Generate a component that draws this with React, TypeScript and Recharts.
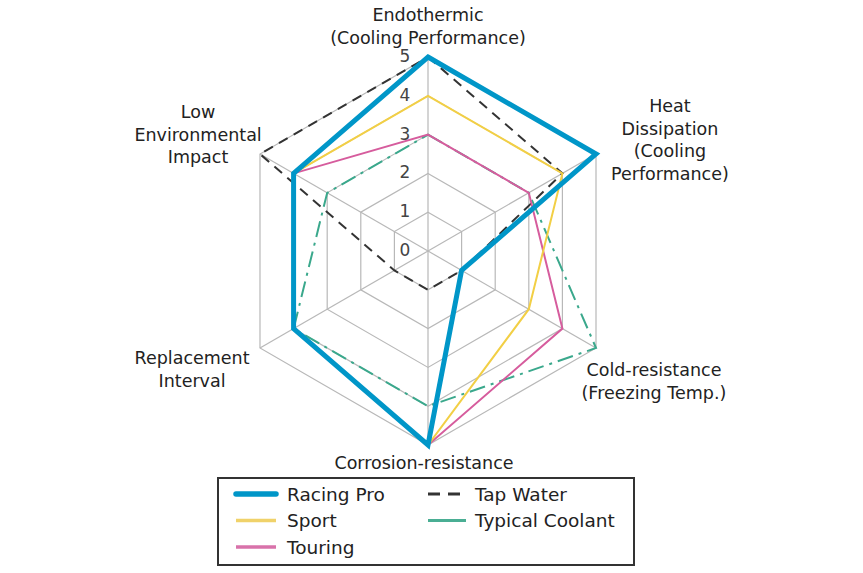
import { RadarChart, Radar, PolarGrid, PolarAngleAxis, PolarRadiusAxis, Legend } from 'recharts';

const categories = [
  'Endothermic\n(Cooling Performance)',
  'Heat\nDissipation\n(Cooling\nPerformance)',
  'Cold-resistance\n(Freezing Temp.)',
  'Corrosion-resistance',
  'Replacement\nInterval',
  'Low\nEnvironmental\nImpact',
];

const racingPro = [5, 5, 1, 5, 4, 4];
const sport = [4, 4, 3, 5, 4, 4];
const touring = [3, 3, 4, 5, 4, 4];
const tapWater = [5, 4, 1, 1, 1, 5];
const typicalCoolant = [3, 3, 5, 4, 4, 3];

const radiusTicks = [0, 1, 2, 3, 4, 5];

const data = categories.map((name, i) => ({
  name,
  racingPro: racingPro[i],
  sport: sport[i],
  touring: touring[i],
  tapWater: tapWater[i],
  typicalCoolant: typicalCoolant[i],
}));

const FONT = '"DejaVu Sans", Verdana, sans-serif';

// label offsets from the tick point, per axis
const LABEL_OFFSETS = [
  { dx: 0, dy: -34 },
  { dx: 67, dy: -44 },
  { dx: 51, dy: 18 },
  { dx: -4, dy: 10 },
  { dx: -61, dy: 6 },
  { dx: -55, dy: -38 },
];

const AngleTick = (props: any) => {
  const { x, y, payload, index } = props;
  const off = LABEL_OFFSETS[index] || { dx: 0, dy: 0 };
  const lines = String(payload.value).split('\n');
  return (
    <text
      x={x + off.dx}
      y={y + off.dy}
      textAnchor="middle"
      dominantBaseline="central"
      fontFamily={FONT}
      fontSize={17.5}
      fill="#222"
    >
      {lines.map((line, i) => (
        <tspan key={i} x={x + off.dx} dy={i === 0 ? 0 : 22.5}>
          {line}
        </tspan>
      ))}
    </text>
  );
};

const RadiusTick = (props: any) => {
  const { x, y, payload } = props;
  return (
    <text
      x={x - 23}
      y={y - 1}
      textAnchor="middle"
      dominantBaseline="central"
      fontFamily={FONT}
      fontSize={17}
      fill="#444"
    >
      {payload.value}
    </text>
  );
};

const legendItems = [
  { label: 'Racing Pro', color: '#0096c8', width: 5.5, dash: undefined, col: 0, row: 0 },
  { label: 'Sport', color: '#f0d26a', width: 3.5, dash: undefined, col: 0, row: 1 },
  { label: 'Touring', color: '#d872aa', width: 3.5, dash: undefined, col: 0, row: 2 },
  { label: 'Tap Water', color: '#333', width: 3, dash: '12 8', col: 1, row: 0 },
  { label: 'Typical Coolant', color: '#4aae94', width: 3, dash: undefined, col: 1, row: 1 },
];

const LegendBox = () => (
  <svg width={418} height={89} style={{ display: 'block' }}>
    <rect x={1} y={1} width={416} height={87} fill="#fff" stroke="#333" strokeWidth={2} />
    {legendItems.map((it) => {
      const x0 = it.col === 0 ? 19 : 211;
      const y0 = 17 + it.row * 26.5;
      return (
        <g key={it.label}>
          <line
            x1={x0}
            y1={y0}
            x2={x0 + (it.col === 0 ? 40 : 38)}
            y2={y0}
            stroke={it.color}
            strokeWidth={it.width}
            strokeDasharray={it.dash}
            strokeLinecap={it.width > 5 ? 'round' : 'butt'}
          />
          <text
            x={it.col === 0 ? x0 + 51 : x0 + 47}
            y={y0}
            dominantBaseline="central"
            fontFamily={FONT}
            fontSize={18.5}
            fill="#222"
          >
            {it.label}
          </text>
        </g>
      );
    })}
  </svg>
);

export default function App() {
  return (
    <div style={{ position: 'absolute', left: 0, top: 0, width: 863, height: 573, background: '#fff' }}>
      <RadarChart
        width={863}
        height={573}
        data={data}
        cx={428}
        cy={251}
        outerRadius={194}
        margin={{ top: 0, right: 0, bottom: 0, left: 0 }}
      >
        <PolarGrid gridType="polygon" stroke="#b8b8b8" strokeWidth={1.2} />
        <PolarAngleAxis dataKey="name" tick={<AngleTick />} tickLine={false} axisLine={false} />
        <PolarRadiusAxis
          angle={90}
          domain={[0, 5]}
          ticks={radiusTicks as any}
          tickCount={6}
          tick={<RadiusTick />}
          axisLine={false}
          tickLine={false}
        />
        <Radar
          name="Tap Water"
          dataKey="tapWater"
          stroke="#333"
          strokeWidth={2}
          strokeDasharray="10 7"
          fill="none"
          fillOpacity={0}
          isAnimationActive={false}
        />
        <Radar
          name="Typical Coolant"
          dataKey="typicalCoolant"
          stroke="#3aa88c"
          strokeWidth={2}
          strokeDasharray="16 6 3 6"
          fill="none"
          fillOpacity={0}
          isAnimationActive={false}
        />
        <Radar
          name="Touring"
          dataKey="touring"
          stroke="#d65c9d"
          strokeWidth={2}
          fill="none"
          fillOpacity={0}
          isAnimationActive={false}
        />
        <Radar
          name="Sport"
          dataKey="sport"
          stroke="#f2cf45"
          strokeWidth={2}
          fill="none"
          fillOpacity={0}
          isAnimationActive={false}
        />
        <Radar
          name="Racing Pro"
          dataKey="racingPro"
          stroke="#0096c8"
          strokeWidth={5}
          strokeLinejoin="miter"
          fill="none"
          fillOpacity={0}
          isAnimationActive={false}
        />
        <Legend
          content={<LegendBox />}
          wrapperStyle={{ position: 'absolute', left: 217, top: 477, width: 418, height: 89 }}
        />
      </RadarChart>
    </div>
  );
}
